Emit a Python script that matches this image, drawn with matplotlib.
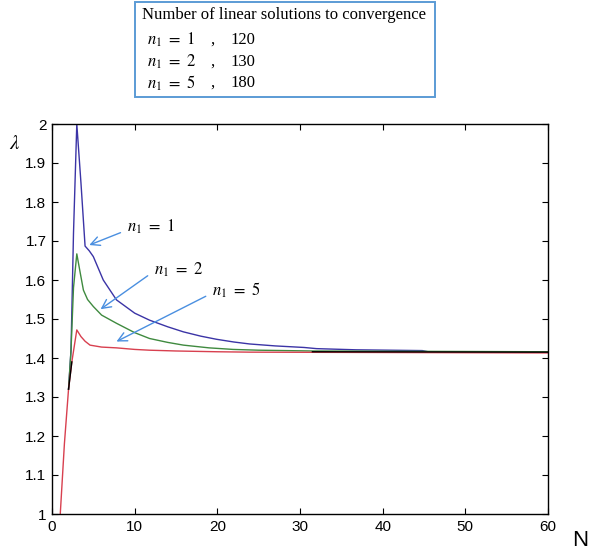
import matplotlib
matplotlib.use("Agg")
import matplotlib.pyplot as plt
import matplotlib.patches as mpatches
import numpy as np

plt.rcParams.update({
    "font.family": "Liberation Sans",
    "mathtext.fontset": "stix",
})

# ── data ─────────────────────────────────────────────────
n_blue = [2.0, 2.3, 2.6, 3.0, 3.5, 4.0, 4.5, 5.0, 6.2, 7.8, 10, 11.8, 14, 15.9,
          18, 19.9, 22, 23.9, 27, 30.5, 32, 36.8, 44.8, 45.5, 60]
lam_blue = [1.32, 1.42, 1.72, 2.00, 1.85, 1.687, 1.675, 1.66, 1.60, 1.549, 1.515,
            1.497, 1.48, 1.467, 1.456, 1.448, 1.441, 1.436, 1.431, 1.427, 1.424,
            1.421, 1.419, 1.416, 1.415]

n_green = [2.0, 2.3, 2.6, 3.0, 3.4, 3.8, 4.3, 5.0, 6.0, 7.8, 10, 11.8, 14, 15.9,
           19, 21.9, 25, 31.5, 60]
lam_green = [1.32, 1.42, 1.58, 1.667, 1.62, 1.574, 1.55, 1.532, 1.51, 1.489, 1.465,
             1.45, 1.44, 1.433, 1.426, 1.422, 1.42, 1.418, 1.416]

n_red = [1.0, 1.5, 2.0, 2.4, 3.0, 3.5, 4.0, 4.6, 6.0, 7.8, 10, 11.8, 15, 20, 23.9, 60]
lam_red = [1.0, 1.18, 1.32, 1.39, 1.472, 1.455, 1.443, 1.433, 1.428, 1.426, 1.422,
           1.42, 1.418, 1.416, 1.415, 1.413]

n_black = [2.0, 2.4, np.nan, 31.5, 60]
lam_black = [1.32, 1.39, np.nan, 1.416, 1.415]

x_ticks = [0, 10, 20, 30, 40, 50, 60]
y_ticks = [1.0, 1.1, 1.2, 1.3, 1.4, 1.5, 1.6, 1.7, 1.8, 1.9, 2.0]
y_ticklabels = ["1", "1.1", "1.2", "1.3", "1.4", "1.5", "1.6", "1.7", "1.8", "1.9", "2"]

n1_values = [1, 2, 5]
solutions = [120, 130, 180]
# arrow tail / tip (N, lambda) for each annotation
arrow_tail = [(8.6, 1.724), (11.85, 1.615), (18.9, 1.5615)]
arrow_tip = [(4.2, 1.687), (5.6, 1.521), (7.5, 1.439)]

BLUE = "#3b34a6"
GREEN = "#3f8a3f"
RED = "#d8404f"
ARROW = "#4a8fe0"

fig = plt.figure(figsize=(5.97, 5.53), dpi=100)
ax = fig.add_axes([52 / 597, 1 - 514 / 553, 496 / 597, 390 / 553])

ax.plot(n_blue, lam_blue, color=BLUE, lw=1.0)
ax.plot(n_green, lam_green, color=GREEN, lw=1.0)
ax.plot(n_red, lam_red, color=RED, lw=1.0)
ax.plot(n_black, lam_black, color="black", lw=1.0)

ax.set_xlim(0, 60)
ax.set_ylim(1, 2)
ax.set_xticks(x_ticks)
ax.set_yticks(y_ticks)
ax.set_yticklabels(y_ticklabels)
ax.tick_params(direction="in", top=True, right=True, length=4, width=0.8,
               labelsize=11, pad=4)
for s in ax.spines.values():
    s.set_linewidth(1.0)

ax.text(-0.075, 0.951, r"$\lambda$", transform=ax.transAxes, fontsize=15,
        ha="center", va="center")
ax.text(1.065, -0.067, "N", transform=ax.transAxes, fontsize=16,
        ha="center", va="center")

for n1, tail, tip in zip(n1_values, arrow_tail, arrow_tip):
    ax.annotate("", xy=tip, xytext=tail,
                arrowprops=dict(arrowstyle="->", color=ARROW, lw=1.0,
                                mutation_scale=16))
    ax.text(tail[0] + 0.5, tail[1] + 0.012, rf"$n_1\ =\ {n1}$", fontsize=12,
            ha="left", va="center")

# ── info box at the top ──────────────────────────────────
W, H = 597, 553
box = mpatches.Rectangle((135 / W, 1 - 97 / H), (435 - 135) / W, 95 / H,
                         transform=fig.transFigure, fill=False,
                         edgecolor="#5b9bd5", lw=1.4)
fig.patches.append(box)
fig.text(142 / W, 1 - 15 / H, "Number of linear solutions to convergence",
         fontsize=12, family="Liberation Serif", va="center", ha="left")
row_y = [40, 62, 83]
for n1, sol, yy in zip(n1_values, solutions, row_y):
    fig.text(147 / W, 1 - yy / H, rf"$n_1\ =\ {n1}$", fontsize=12,
             va="center", ha="left")
    fig.text(210 / W, 1 - yy / H, ",", fontsize=12, family="Liberation Serif",
             va="center", ha="left")
    fig.text(230 / W, 1 - yy / H, str(sol), fontsize=12,
             family="Liberation Serif", va="center", ha="left")

fig.savefig("out.png", dpi=100)
